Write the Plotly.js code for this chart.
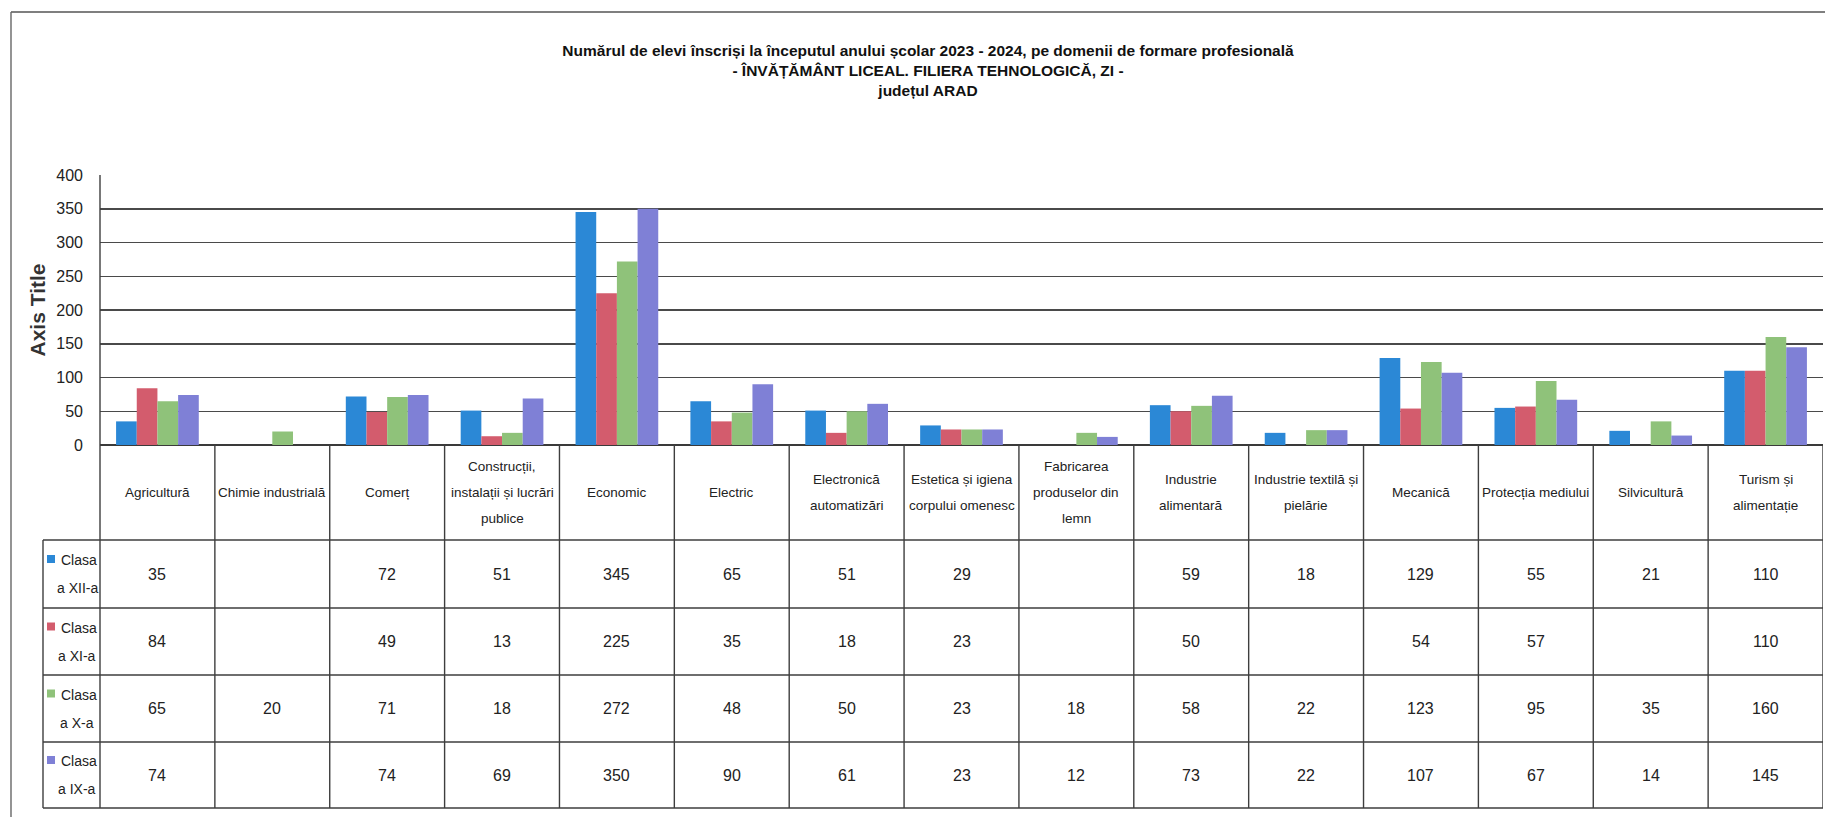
<!DOCTYPE html>
<html><head><meta charset="utf-8">
<script src="https://cdn.plot.ly/plotly-3.0.1.min.js"></script>
<style>html,body{margin:0;padding:0;background:#fff;overflow:hidden}</style>
</head><body><div id="chart" style="width:1825px;height:817px"></div>
<script>
// ---------- DATA ----------
const categories = ["Agricultură","Chimie industrială","Comerț","Construcții, instalații și lucrări publice","Economic","Electric","Electronică automatizări","Estetica și igiena corpului omenesc","Fabricarea produselor din lemn","Industrie alimentară","Industrie textilă și pielărie","Mecanică","Protecția mediului","Silvicultură","Turism și alimentație"];
const categoryLabels = [["Agricultură"],["Chimie industrială"],["Comerț"],["Construcții,","instalații și lucrări","publice"],["Economic"],["Electric"],["Electronică","automatizări"],["Estetica și igiena","corpului omenesc"],["Fabricarea","produselor din","lemn"],["Industrie","alimentară"],["Industrie textilă și","pielărie"],["Mecanică"],["Protecția mediului"],["Silvicultură"],["Turism și","alimentație"]];
const seriesNames = ["Clasa a XII-a","Clasa a XI-a","Clasa a X-a","Clasa a IX-a"];
const seriesLabelLines = [["Clasa","a XII-a"],["Clasa","a XI-a"],["Clasa","a X-a"],["Clasa","a IX-a"]];
const clasaXII = [35, null, 72, 51, 345, 65, 51, 29, null, 59, 18, 129, 55, 21, 110];
const clasaXI  = [84, null, 49, 13, 225, 35, 18, 23, null, 50, null, 54, 57, null, 110];
const clasaX   = [65, 20, 71, 18, 272, 48, 50, 23, 18, 58, 22, 123, 95, 35, 160];
const clasaIX  = [74, null, 74, 69, 350, 90, 61, 23, 12, 73, 22, 107, 67, 14, 145];
const seriesValues = [clasaXII, clasaXI, clasaX, clasaIX];
const seriesColors = ["#2b88d6", "#d35c6d", "#8fc27a", "#7f80d6"];
const yTicks = [0, 50, 100, 150, 200, 250, 300, 350, 400];
const titleLines = ["Numărul de elevi înscriși la începutul anului școlar 2023 - 2024, pe domenii de formare profesională","- ÎNVĂȚĂMÂNT LICEAL. FILIERA TEHNOLOGICĂ, ZI -","județul ARAD"];

// ---------- GEOMETRY ----------
const W = 1825, H = 817, L = 100, R = 1823, T = 175, B = 445;
const px = v => (v - L) / (R - L);
const py = v => (B - v) / (B - T);
const FONT = "Liberation Sans, Arial, sans-serif";
const lineCol = "#3e3e3e";
const headerCenter = 492, headerSpacing = 26;
const rowLines = [540, 608, 675, 742, 808];
const rowCenters = [574, 641.5, 708.5, 775];

const traces = seriesNames.map((n, s) => ({
  type: "bar", name: n, x: categories, y: seriesValues[s],
  marker: {color: seriesColors[s], line: {width: 0}},
  showlegend: false, hovertemplate: "%{x}<br>" + n + ": %{y}<extra></extra>"
}));

const shapes = [];
const ln = (o) => shapes.push(Object.assign({type: "line", line: {color: lineCol, width: 1.4}}, o));
ln({xref: "paper", yref: "paper", x0: 0, x1: 0, y0: py(808), y1: 1});
for (let i = 1; i <= categories.length; i++) {
  ln({xref: "x", yref: "paper", x0: i - 0.5, x1: i - 0.5, y0: py(808), y1: 0});
}
rowLines.forEach(r => ln({xref: "paper", yref: "paper", x0: px(43), x1: 1, y0: py(r), y1: py(r)}));
ln({xref: "paper", yref: "paper", x0: px(43), x1: px(43), y0: py(540), y1: py(808)});
ln({xref: "paper", yref: "paper", x0: px(11), x1: px(1830), y0: py(12), y1: py(12), line: {color: "#555", width: 1.6}});
ln({xref: "paper", yref: "paper", x0: px(11), x1: px(11), y0: py(12), y1: py(830), line: {color: "#666", width: 1.4}});
seriesColors.forEach((c, s) => shapes.push({type: "rect", xref: "paper", yref: "paper",
  x0: px(47), x1: px(55), y0: py(rowCenters[s] - 11), y1: py(rowCenters[s] - 19),
  fillcolor: c, line: {width: 0}}));

const annotations = [];
categoryLabels.forEach((lines, i) => {
  lines.forEach((t, k) => {
    const yc = headerCenter + (k - (lines.length - 1) / 2) * headerSpacing;
    annotations.push({xref: "x", yref: "paper", x: i, y: py(yc), text: t, showarrow: false,
      xanchor: "center", yanchor: "middle", font: {family: FONT, size: 13.5, color: "#222"}});
  });
});
seriesValues.forEach((vals, s) => {
  vals.forEach((v, i) => {
    if (v === null) return;
    annotations.push({xref: "x", yref: "paper", x: i, y: py(rowCenters[s]), text: String(v), showarrow: false,
      xanchor: "center", yanchor: "middle", font: {family: FONT, size: 16, color: "#222"}});
  });
});
seriesLabelLines.forEach((lines, s) => {
  lines.forEach((t, k) => {
    const yc = rowCenters[s] + (k - 0.5) * 28;
    annotations.push({xref: "paper", yref: "paper", x: px(k === 0 ? 59 : 77), y: py(yc), text: t, showarrow: false,
      xanchor: k === 0 ? "left" : "center", yanchor: "middle", font: {family: FONT, size: 14, color: "#222"}});
  });
});

const layout = {
  width: W, height: H,
  margin: {l: L, r: W - R, t: T, b: H - B, pad: 0},
  paper_bgcolor: "#fff", plot_bgcolor: "#fff",
  title: {text: titleLines.map(t => "<b>" + t + "</b>").join("<br>"), xref: "container", yref: "container",
    x: 928 / W, xanchor: "center", y: 1 - 56 / H, yanchor: "top",
    font: {family: FONT, size: 15.5, color: "#111"}},
  barmode: "group", bargap: 0.28, bargroupgap: 0,
  xaxis: {type: "category", range: [-0.5, categories.length - 0.5], showticklabels: false, showgrid: false,
    zeroline: false, showline: false, ticks: "", fixedrange: true},
  yaxis: {range: [0, 400], tickmode: "array", tickvals: yTicks, ticktext: yTicks.map(String),
    showgrid: true, gridcolor: "#4a4a4a", gridwidth: 1.5, zeroline: true, zerolinecolor: "#3a3a3a", zerolinewidth: 1.6,
    showline: false, ticks: "", ticklabelstandoff: 16,
    tickfont: {family: FONT, size: 16, color: "#222"},
    title: {text: "Axis Title", standoff: 4, font: {family: FONT, size: 21, weight: "bold", color: "#333"}},
    fixedrange: true},
  shapes: shapes, annotations: annotations
};

Plotly.newPlot("chart", traces, layout, {displayModeBar: false, staticPlot: true});
</script></body></html>
